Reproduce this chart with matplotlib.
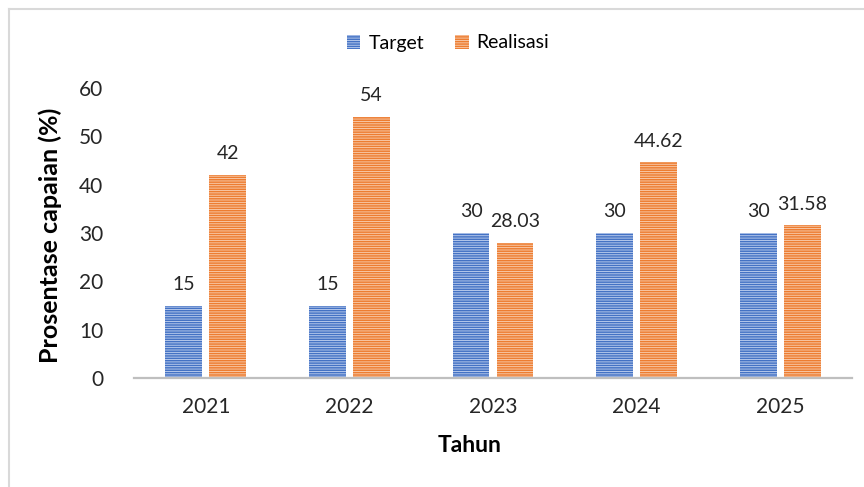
import numpy as np
import matplotlib.pyplot as plt
from matplotlib.lines import Line2D

plt.rcParams['font.family'] = ['Lato', 'DejaVu Sans']
plt.rcParams['hatch.linewidth'] = 1.1

# data
years = ['2021', '2022', '2023', '2024', '2025']
target = [15, 15, 30, 30, 30]
realisasi = [42, 54, 28.03, 44.62, 31.58]
target_lbl = ['15', '15', '30', '30', '30']
realisasi_lbl = ['42', '54', '28.03', '44.62', '31.58']

fig = plt.figure(figsize=(8.64, 4.87), dpi=100)
ax = fig.add_axes([134/864, 1-378/487, 718/864, 290/487])

x = np.arange(len(years))
w = 0.257
off = 0.153
b1 = ax.bar(x - off, target, w, color='#C3D3F0', edgecolor='#4472C4',
            hatch='-------', linewidth=0, label='Target')
b2 = ax.bar(x + off, realisasi, w, color='#F9D0B3', edgecolor='#ED7D31',
            hatch='-------', linewidth=0, label='Realisasi')

for bars, labels in ((b1, target_lbl), (b2, realisasi_lbl)):
    for r, t in zip(bars, labels):
        ax.annotate(t, (r.get_x() + r.get_width()/2, r.get_height()),
                    xytext=(0, 9), textcoords='offset points',
                    ha='center', va='bottom', fontsize=14, color='#262626')

ax.set_xlim(-0.5, 4.5)
ax.set_ylim(0, 60)
ax.set_yticks(range(0, 61, 10))
ax.set_xticks(x)
ax.set_xticklabels(years)
ax.tick_params(axis='both', length=0, labelsize=15, colors='#262626')
ax.tick_params(axis='y', pad=22)
ax.tick_params(axis='x', pad=14)
for s in ('top', 'right', 'left'):
    ax.spines[s].set_visible(False)
ax.spines['bottom'].set_color('#BFBFBF')
ax.spines['bottom'].set_linewidth(1.6)

ax.set_ylabel('Prosentase capaian (%)', fontsize=18, fontweight='bold')
ax.yaxis.set_label_coords(-(134 - 50)/718, (378 - 235)/290)
ax.set_xlabel('Tahun', fontsize=16.5, fontweight='bold')
ax.xaxis.set_label_coords((470 - 134)/718, -(446 - 378)/290)
ax.xaxis.label.set_va('center')
ax.yaxis.label.set_va('center')

leg = fig.legend(handles=[b1, b2], loc='center', bbox_to_anchor=(448/864, 1-43/487),
                 ncol=2, frameon=False, fontsize=14, handlelength=0.7,
                 handleheight=0.7, handletextpad=0.4, columnspacing=1.6)

# outer border
fig.add_artist(Line2D([8.5/864, 8.5/864], [0, 1-8.5/487], color='#D9D9D9', lw=1.5))
fig.add_artist(Line2D([8.5/864, 1], [1-8.5/487, 1-8.5/487], color='#D9D9D9', lw=1.5))

fig.savefig('out.png', dpi=100)
